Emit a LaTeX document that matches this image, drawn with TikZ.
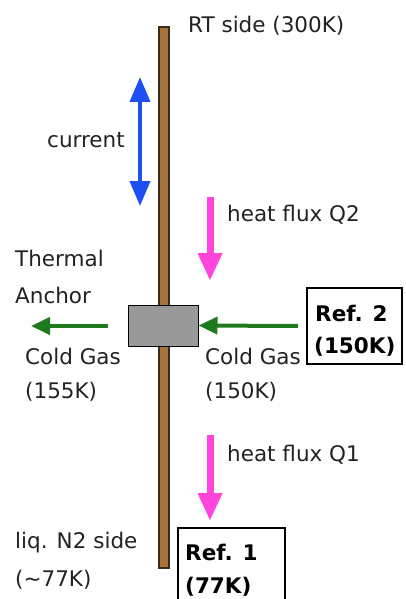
\documentclass[tikz,border=0pt]{standalone}
\usepackage{fontspec}
\setmainfont{DejaVu Sans}
\usetikzlibrary{arrows.meta}
\definecolor{rodbrown}{HTML}{A8733F}
\definecolor{rodedge}{HTML}{3A2A1A}
\definecolor{curblue}{HTML}{1F4EF5}
\definecolor{heatpink}{HTML}{FF45DC}
\definecolor{gasgreen}{HTML}{1F7A1F}
\definecolor{anchorgray}{HTML}{999999}
\definecolor{txt}{HTML}{222222}
\tikzset{
  lbl/.style={font=\fontsize{21.5}{25}\selectfont, text=txt, inner sep=0pt, anchor=west},
  reflbl/.style={font=\fontsize{21.5}{25}\selectfont\bfseries, inner sep=0pt, anchor=west},
  refbox/.style={draw=black, line width=1.8pt, fill=white},
  curarrow/.style={curblue, line width=4pt, {Triangle[width=20pt,length=25pt]}-{Triangle[width=20pt,length=25pt]}},
  heatarrow/.style={heatpink, line width=7pt, -{Triangle[width=23pt,length=28pt]}},
  gasarrow/.style={gasgreen, line width=4pt, -{Triangle[width=17pt,length=19pt]}},
}
\begin{document}
\begin{tikzpicture}[x=1pt,y=-1pt]
\useasboundingbox (0,0) rectangle (406,599);
\clip (0,0) rectangle (406,599);
% rod
\draw[rodedge, fill=rodbrown, line width=1.2pt] (159,27) rectangle (169,568);
\coordinate (rodtop) at (164,27);
% RT side
\node[lbl] (rt) at (188,26) {RT side (300K)};
% current
\coordinate (cu1) at (140,77);
\coordinate (cu2) at (140,206);
\draw[curarrow] (cu1) -- (cu2);
\node[lbl] (cur) at (47,140) {current};
% heat flux Q2
\coordinate (q2a) at (210,197);
\coordinate (q2b) at (210,281);
\draw[heatarrow] (q2a) -- (q2b);
\node[lbl] (q2) at (227,215) {heat flux Q2};
% thermal anchor block
\node[draw=black, fill=anchorgray, line width=1pt, minimum width=70pt, minimum height=41pt, inner sep=0pt] (anchor) at (163,325.5) {};
\node[lbl] (therm) at (15,258) {Thermal};
\node[lbl] (anch) at (15,295) {Anchor};
% gas arrows
\coordinate (gl1) at (108,326);
\coordinate (gl2) at (31,326);
\draw[gasarrow] (gl1) -- (gl2);
\coordinate (gr1) at (298,326);
\draw[gasarrow] (gr1) -- (anchor.east);
\node[lbl] (cgl) at (25,356) {Cold Gas};
\node[lbl] (cgl2) at (25,392) {(155K)};
\node[lbl] (cgr) at (205,356) {Cold Gas};
\node[lbl] (cgr2) at (205,392) {(150K)};
% Ref 2
\node[refbox, minimum width=95pt, minimum height=76pt, inner sep=0pt] (ref2) at (354.5,326) {};
\node[reflbl] (ref2a) at (315,313) {Ref. 2};
\node[reflbl] (ref2b) at (314,347) {(150K)};
% heat flux Q1
\coordinate (q1a) at (210,435);
\coordinate (q1b) at (210,521);
\draw[heatarrow] (q1a) -- (q1b);
\node[lbl] (q1) at (227,455) {heat flux Q1};
% Ref 1
\node[refbox, minimum width=107pt, minimum height=90pt, inner sep=0pt] (ref1) at (231.5,573) {};
\node[reflbl] (ref1a) at (185,552) {Ref. 1};
\node[reflbl] (ref1b) at (185,587) {(77K)};
% liq N2 side
\node[lbl] (ln2) at (15,543) {liq. N2 side};
\node[lbl] (ln2b) at (15,580) {(\char"223C 77K)};
\end{tikzpicture}
\end{document}
